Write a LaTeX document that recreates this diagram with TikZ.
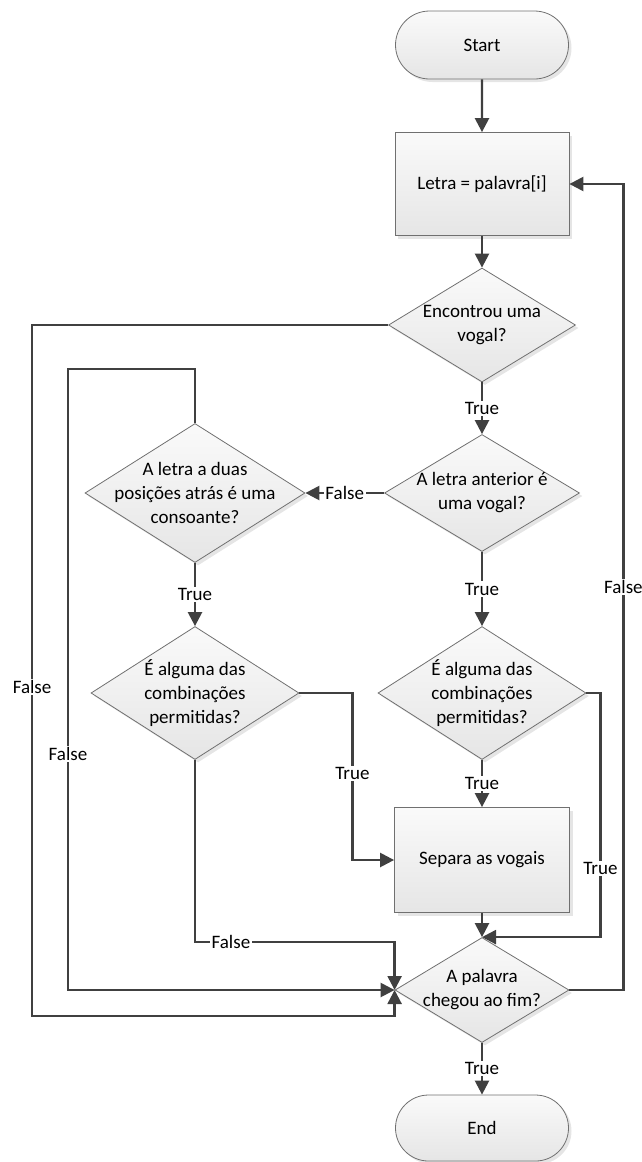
\documentclass[tikz,border=0pt]{standalone}
\usepackage{fontspec}
\setmainfont{Carlito}
\usetikzlibrary{shapes.geometric,shapes.misc,shadows,arrows.meta}
\definecolor{linec}{HTML}{404040}
\definecolor{borderc}{HTML}{707070}
\tikzset{
  base/.style={draw=borderc, line width=0.8pt, top color=white!98!black, bottom color=white!90!black,
    drop shadow={shadow xshift=3pt, shadow yshift=-3pt, fill=black!20}, inner sep=0pt},
  term/.style={base, rounded rectangle, minimum width=173pt, minimum height=68pt},
  proc/.style={base, rectangle, minimum width=174pt, minimum height=103pt},
  dec/.style={base, diamond},
  txt/.style={align=center, inner sep=0pt},
  conn/.style={draw=linec, line width=2.4pt, -{Triangle[length=14pt,width=14pt]}},
  lbl/.style={fill=white, inner sep=1.5pt, text=black},
}
\begin{document}
\begin{tikzpicture}[x=1pt, y=-1pt, font=\fontsize{19}{24}\selectfont]
\useasboundingbox (0,0) rectangle (641,1162);

% shapes
\node[term] (start) at (482,45) {Start};
\node[proc] (letra) at (482,184) {Letra = palavra[i]};
\node[dec, minimum width=187pt, minimum height=114pt] (d1) at (482,325) {};
\node[txt] (t1) at (d1) {Encontrou uma\\vogal?};
\node[dec, minimum width=195pt, minimum height=117pt] (d2) at (482,493) {};
\node[txt] (t2) at (d2) {A letra anterior é\\uma vogal?};
\node[dec, minimum width=220pt, minimum height=139pt] (d3) at (195,493) {};
\node[txt] (t3) at (d3) {A letra a duas\\posições atrás é uma\\consoante?};
\node[dec, minimum width=208pt, minimum height=133pt] (d4) at (195,693) {};
\node[txt] (t4) at (d4) {É alguma das\\combinações\\permitidas?};
\node[dec, minimum width=208pt, minimum height=133pt] (d5) at (482,693) {};
\node[txt] (t5) at (d5) {É alguma das\\combinações\\permitidas?};
\node[proc, minimum width=175pt, minimum height=105pt] (sep) at (482,860) {Separa as vogais};
\node[dec, minimum width=174pt, minimum height=105pt] (fim) at (482,990) {};
\node[txt] (t6) at (fim) {A palavra\\chegou ao fim?};
\node[term, minimum height=66pt] (end) at (482,1128) {End};

% connectors
\draw[conn] (start) -- (letra);
\draw[conn] (letra) -- (d1);
\draw[conn] (d1.south) -- node[lbl] {True} (d2.north);
\draw[conn] (d2.west) -- node[lbl] {False} (d3.east);
\draw[conn] (d2.south) -- node[lbl] {True} (d5.north);
\draw[conn] (d3.south) -- node[lbl] {True} (d4.north);
\draw[conn] (d5.south) -- node[lbl] {True} (sep.north);
\draw[conn] (sep) -- (fim.north);
\draw[conn] (d5.east) -- ++(14,0) |- node[lbl, pos=0.36] {True} (fim.north);
\draw[conn] (d4.east) -- ++(53,0) |- node[lbl, pos=0.24] {True} (sep.west);
\draw[conn] (d4.south) |- node[lbl, pos=0.59] {False} ([yshift=48pt]fim.west) -- (fim.west);
\draw[conn] (d3.north) -- ++(0,-54) -- ++(-127,0) |- node[lbl, pos=0.31] {False} (fim.west);
\draw[conn] (d1.west) -- ++(-356,0) |- node[lbl, pos=0.262] {False} ([yshift=-26pt]fim.west) -- (fim.west);
\draw[conn] (fim.east) -- ++(54,0) |- node[lbl, pos=0.25] {False} (letra.east);
\draw[conn] (fim.south) -- node[lbl] {True} (end.north);
\end{tikzpicture}
\end{document}
